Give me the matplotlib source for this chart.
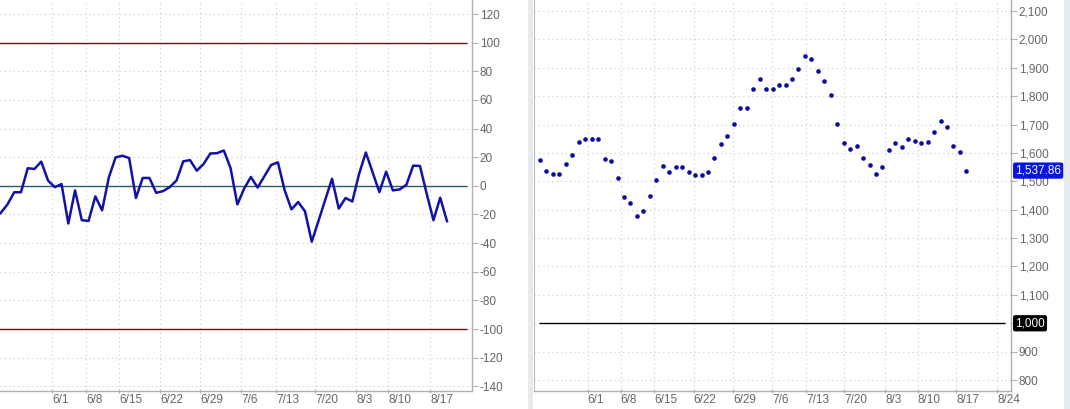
import numpy as np
import matplotlib
matplotlib.use("Agg")
import matplotlib.pyplot as plt
from matplotlib.patches import Rectangle
from matplotlib.ticker import FuncFormatter

plt.rcParams['font.family'] = ['Liberation Sans', 'DejaVu Sans']

# left panel: oscillator values (one per bar)
osc = [-19, -13, -4.5, -4.5, 12.3, 11.8, 16.9, 3.7, -0.9, 1.2,
       -26.3, -3.2, -24, -24.5, -7.4, -17.1, 6, 19.9, 21, 19.4,
       -8.5, 5.5, 5.5, -4.9, -3.7, -0.9, 3.7, 17.1, 18, 10.6,
       15.2, 22.6, 22.8, 24.7, 12.3, -13, -2, 6.2, -1.2, 6.7,
       14.6, 16.4, -3.2, -16.4, -11.3, -17.8, -39, -24.5, -9.7, 4.9,
       -15.9, -8.5, -10.9, 8.3, 23.3, 9.5, -4.4, 9.9, -3.2, -2.5,
       0.7, 14.1, 13.9, -5.5, -24, -8.3, -24.7]
upper_band = 100
lower_band = -100
mid_line = 0

# right panel: price dots
price = [1574, 1538, 1526, 1526, 1560, 1594, 1639, 1650, 1648, 1650,
         1580, 1571, 1510, 1446, 1425, 1377, 1394, 1448, 1504, 1554,
         1534, 1550, 1550, 1534, 1523, 1523, 1534, 1583, 1630, 1658,
         1701, 1760, 1760, 1827, 1859, 1825, 1825, 1841, 1841, 1859,
         1895, 1940, 1932, 1887, 1853, 1805, 1701, 1636, 1614, 1625,
         1583, 1557, 1526, 1550, 1612, 1636, 1622, 1650, 1642, 1636,
         1640, 1675, 1713, 1690, 1625, 1602, 1537.86]
base_level = 1000
last_label = "1,537.86"

left_ticks = [7.6, 12.6, 17.5, 23.6, 29.5, 35.6, 40.7, 46.5, 52.6, 57.3, 63.5]
left_labels = ["6/1", "6/8", "6/15", "6/22", "6/29", "7/6", "7/13", "7/20", "8/3", "8/10", "8/17"]
right_ticks = [7.4, 12.5, 17.7, 23.8, 29.9, 35.9, 41.2, 47.1, 53.4, 58.5, 64.4, 70.8]
right_labels = ["6/1", "6/8", "6/15", "6/22", "6/29", "7/6", "7/13", "7/20", "8/3", "8/10", "8/17", "8/24"]

W, H = 1070, 409
fig = plt.figure(figsize=(W / 100, H / 100), dpi=100)
fig.patch.set_facecolor("white")

# light gutters
fig.patches.append(Rectangle((528 / W, 0), 5 / W, 1, transform=fig.transFigure,
                             facecolor="#e6ebf0", edgecolor="none", zorder=0))
fig.patches.append(Rectangle((1064 / W, 0), 6 / W, 1, transform=fig.transFigure,
                             facecolor="#e6ebf0", edgecolor="none", zorder=0))

tick_col = "#666666"
grid_col = "#c8c8c8"


def style(ax):
    for s in ["top", "left"]:
        ax.spines[s].set_visible(False)
    for s in ["right", "bottom"]:
        ax.spines[s].set_color("#b0b0b0")
        ax.spines[s].set_linewidth(1)
    ax.yaxis.tick_right()
    ax.tick_params(axis="y", colors="#b0b0b0", labelcolor=tick_col,
                   labelsize=8.5, length=4, width=0.8, pad=1.5)
    ax.tick_params(axis="x", colors="#b0b0b0", labelcolor=tick_col,
                   labelsize=8.5, length=3, width=0.8, pad=0.5, direction="inout")
    ax.grid(True, color=grid_col, linestyle=(0, (1, 3)), linewidth=0.8)
    for lab in ax.get_xticklabels():
        lab.set_ha("left")


# ---- left panel
ax1 = fig.add_axes([0, 18 / H, 472 / W, 391 / H])
x1 = np.arange(len(osc))
ax1.hlines([upper_band, lower_band], -0.2, 69, color="#5c1a14", linewidth=1)
ax1.hlines(mid_line, -0.2, 69, color="#2d5d6b", linewidth=1)
ax1.plot(x1, osc, color="#1212a8", linewidth=1.8, zorder=3)
ax1.set_xlim(-0.1, 69.7)
ax1.set_ylim(-143.3, 129.8)
ax1.set_yticks(np.arange(-140, 121, 20))
ax1.yaxis.set_major_formatter(FuncFormatter(lambda v, p: "%d" % v))
ax1.set_xticks(left_ticks)
ax1.set_xticklabels(left_labels)
style(ax1)

# ---- right panel
ax2 = fig.add_axes([534 / W, 18 / H, (1011 - 534) / W, 391 / H])
x2 = np.arange(len(price))
ax2.hlines(base_level, -0.1, 72, color="black", linewidth=1)
ax2.scatter(x2, price, s=11, color="#0c0c9c", zorder=3, linewidths=0)
ax2.set_xlim(-0.93, 72.9)
ax2.set_ylim(761.4, 2138.8)
ax2.set_yticks(np.arange(800, 2101, 100))
# the 1,000 level is shown by its flag instead of a plain tick label
ax2.yaxis.set_major_formatter(
    FuncFormatter(lambda v, p: "" if round(v) == base_level else "{:,.0f}".format(v)))
ax2.set_xticks(right_ticks)
ax2.set_xticklabels(right_labels)
style(ax2)
ax2.spines["left"].set_visible(True)
ax2.spines["left"].set_color("#c0c0c0")

# value flags on the right axis
ax2.annotate(last_label, xy=(1, price[-1]), xycoords=("axes fraction", "data"),
             xytext=(3, 0), textcoords="offset points", va="center", ha="left",
             fontsize=8.5, color="white",
             bbox=dict(boxstyle="round,pad=0.18", fc="#0a14e0", ec="none"))
ax2.annotate("{:,}".format(base_level), xy=(1, base_level), xycoords=("axes fraction", "data"),
             xytext=(3, 0), textcoords="offset points", va="center", ha="left",
             fontsize=8.5, color="white",
             bbox=dict(boxstyle="round,pad=0.18", fc="black", ec="none"))

fig.savefig("out.png", dpi=100)
